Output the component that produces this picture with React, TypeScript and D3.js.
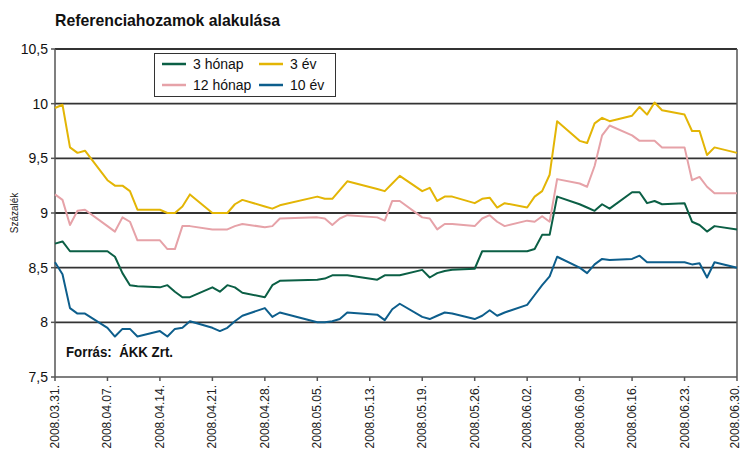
import React from "react";
import * as d3 from "d3";

const dates = [
  "2008.03.31.","2008.04.01.","2008.04.02.","2008.04.03.","2008.04.04.",
  "2008.04.07.","2008.04.08.","2008.04.09.","2008.04.10.","2008.04.11.",
  "2008.04.14.","2008.04.15.","2008.04.16.","2008.04.17.","2008.04.18.",
  "2008.04.21.","2008.04.22.","2008.04.23.","2008.04.24.","2008.04.25.",
  "2008.04.28.","2008.04.29.","2008.04.30.",
  "2008.05.05.","2008.05.06.","2008.05.07.","2008.05.08.","2008.05.09.",
  "2008.05.13.","2008.05.14.","2008.05.15.","2008.05.16.",
  "2008.05.19.","2008.05.20.","2008.05.21.","2008.05.22.","2008.05.23.",
  "2008.05.26.","2008.05.27.","2008.05.28.","2008.05.29.","2008.05.30.",
  "2008.06.02.","2008.06.03.","2008.06.04.","2008.06.05.","2008.06.06.",
  "2008.06.09.","2008.06.10.","2008.06.11.","2008.06.12.","2008.06.13.",
  "2008.06.16.","2008.06.17.","2008.06.18.","2008.06.19.","2008.06.20.",
  "2008.06.23.","2008.06.24.","2008.06.25.","2008.06.26.","2008.06.27.",
  "2008.06.30."
];

const honap3 = [
  8.72,8.74,8.65,8.65,8.65,
  8.65,8.60,8.45,8.34,8.33,
  8.32,8.34,8.28,8.23,8.23,
  8.32,8.28,8.34,8.32,8.27,
  8.23,8.34,8.38,
  8.39,8.40,8.43,8.43,8.43,
  8.39,8.43,8.43,8.43,
  8.48,8.41,8.45,8.47,8.48,
  8.49,8.65,8.65,8.65,8.65,
  8.65,8.67,8.80,8.80,9.15,
  9.08,9.05,9.02,9.08,9.04,
  9.19,9.19,9.09,9.11,9.08,
  9.09,8.92,8.89,8.83,8.88,
  8.85
];

const honap12 = [
  9.17,9.12,8.89,9.02,9.03,
  8.88,8.83,8.96,8.92,8.75,
  8.75,8.67,8.67,8.88,8.88,
  8.85,8.85,8.85,8.88,8.90,
  8.87,8.88,8.95,
  8.96,8.95,8.89,8.95,8.98,
  8.96,8.93,9.11,9.11,
  8.96,8.95,8.85,8.90,8.90,
  8.88,8.95,8.98,8.92,8.88,
  8.93,8.92,8.97,8.92,9.31,
  9.27,9.24,9.43,9.71,9.80,
  9.71,9.66,9.66,9.66,9.60,
  9.60,9.30,9.33,9.24,9.18,
  9.18
];

const ev3 = [
  9.96,9.99,9.60,9.55,9.57,
  9.30,9.25,9.25,9.20,9.03,
  9.03,9.00,9.00,9.06,9.17,
  9.00,9.00,9.00,9.08,9.12,
  9.06,9.04,9.07,
  9.15,9.13,9.13,9.21,9.29,
  9.22,9.20,9.27,9.34,
  9.20,9.23,9.11,9.15,9.15,
  9.09,9.13,9.14,9.05,9.09,
  9.05,9.15,9.20,9.35,9.84,
  9.66,9.64,9.82,9.87,9.84,
  9.89,9.97,9.90,10.01,9.94,
  9.90,9.75,9.75,9.53,9.60,
  9.55
];

const ev10 = [
  8.55,8.44,8.13,8.08,8.08,
  7.95,7.87,7.94,7.94,7.87,
  7.92,7.87,7.94,7.95,8.01,
  7.95,7.92,7.95,8.01,8.06,
  8.13,8.05,8.09,
  8.00,8.00,8.01,8.03,8.09,
  8.07,8.02,8.12,8.17,
  8.05,8.03,8.06,8.09,8.08,
  8.03,8.06,8.11,8.06,8.09,
  8.16,8.25,8.34,8.42,8.60,
  8.50,8.45,8.53,8.58,8.57,
  8.58,8.61,8.55,8.55,8.55,
  8.55,8.53,8.54,8.41,8.55,
  8.50
];

const tickLabels = [
  "2008.03.31.","2008.04.07.","2008.04.14.","2008.04.21.","2008.04.28.",
  "2008.05.05.","2008.05.13.","2008.05.19.","2008.05.26.","2008.06.02.",
  "2008.06.09.","2008.06.16.","2008.06.23.","2008.06.30."
];

const yTicks = [7.5, 8, 8.5, 9, 9.5, 10, 10.5];

const seriesNames = ["3 hónap", "3 év", "12 hónap", "10 év"];
const seriesColors = ["#0b5f45", "#e3b505", "#e6a2a8", "#0d5e8c"];
const seriesData = [honap3, ev3, honap12, ev10];

const W = 742;
const H = 454;
const L = 55, R = 737, T = 49, B = 377;

const parse = d3.utcParse("%Y.%m.%d.");
const NARROW = "'Liberation Sans Narrow', 'Arial Narrow', 'Liberation Sans', Arial, sans-serif";
const SANS = "'Liberation Sans', Arial, sans-serif";

export default function App() {
  const start = parse(dates[0]) as Date;
  const end = parse(dates[dates.length - 1]) as Date;
  const x = d3.scaleUtc().domain([start, end]).range([L, R]);
  const y = d3.scaleLinear().domain([7.5, 10.5]).range([B, T]);
  const tickDates = d3.utcDay.range(start, d3.utcDay.offset(end, 1)).filter((_, i) => i % 7 === 0);
  const fmt = (v: number) => String(v).replace(".", ",");

  const line = (vals: number[]) =>
    d3.line<number>()
      .x((_, i) => x(parse(dates[i]) as Date))
      .y((v) => y(v))(vals) || "";

  const drawOrder = [2, 0, 1, 3];

  const legendItems = [
    { i: 0, lx: 162, ty: 64 },
    { i: 1, lx: 259, ty: 64 },
    { i: 2, lx: 162, ty: 85 },
    { i: 3, lx: 259, ty: 85 },
  ];

  return (
    <svg width={W} height={H} style={{ position: "absolute", left: 0, top: 0, background: "#fff" }}>
      <rect x={0} y={0} width={W} height={H} fill="#fff" />
      <text x={55} y={26} fontFamily={SANS} fontWeight="bold" fontSize={17} fill="#111"
        textLength={225} lengthAdjust="spacingAndGlyphs">Referenciahozamok alakulása</text>

      {/* gridlines */}
      {yTicks.map((t) => (
        <line key={"g" + t} x1={L} x2={R} y1={y(t)} y2={y(t)}
          stroke={t === 7.5 ? "#555" : "#333"} strokeWidth={t === 7.5 ? 1.5 : 1.8} />
      ))}
      {/* left / right axes */}
      <line x1={L} x2={L} y1={T} y2={B} stroke="#555" strokeWidth={1.5} />
      <line x1={R} x2={R} y1={T} y2={B} stroke="#555" strokeWidth={1.5} />
      {yTicks.map((t) => (
        <g key={"yt" + t}>
          <line x1={L - 4} x2={L} y1={y(t)} y2={y(t)} stroke="#555" strokeWidth={1.5} />
          <text x={48} y={y(t)} dy="0.36em" textAnchor="end" fontFamily={NARROW} fontSize={14} fill="#111">{fmt(t)}</text>
        </g>
      ))}
      <text transform="translate(18,213) rotate(-90)" textAnchor="middle" fontFamily={SANS} fontSize={10} fill="#222">Százalék</text>

      {/* x ticks */}
      {tickDates.map((d, i) => (
        <g key={"xt" + i}>
          <line x1={x(d)} x2={x(d)} y1={B} y2={B + 4} stroke="#555" strokeWidth={1.5} />
          <text transform={`translate(${Math.min(x(d) + 4, W - 3)},${385}) rotate(-90)`} textAnchor="end"
            fontFamily={SANS} fontSize={12} fill="#222">{tickLabels[i]}</text>
        </g>
      ))}

      {/* series */}
      {drawOrder.map((k) => (
        <path key={"s" + k} d={line(seriesData[k])} fill="none" stroke={seriesColors[k]}
          strokeWidth={2} strokeLinejoin="round" />
      ))}

      {/* legend */}
      <rect x={154.5} y={53.5} width={181} height={43} fill="#fff" stroke="#333" strokeWidth={1} />
      {legendItems.map((it) => (
        <g key={"lg" + it.i}>
          <line x1={it.lx} x2={it.lx + 24} y1={it.ty} y2={it.ty} stroke={seriesColors[it.i]} strokeWidth={2.5} />
          <text x={it.lx + 31} y={it.ty} dy="0.36em" fontFamily={NARROW} fontSize={14} fill="#111">{seriesNames[it.i]}</text>
        </g>
      ))}

      <text x={66} y={357} fontFamily={SANS} fontWeight="bold" fontSize={14} fill="#111"
        textLength={107} lengthAdjust="spacingAndGlyphs" xmlSpace="preserve">Forrás:  ÁKK Zrt.</text>
    </svg>
  );
}
